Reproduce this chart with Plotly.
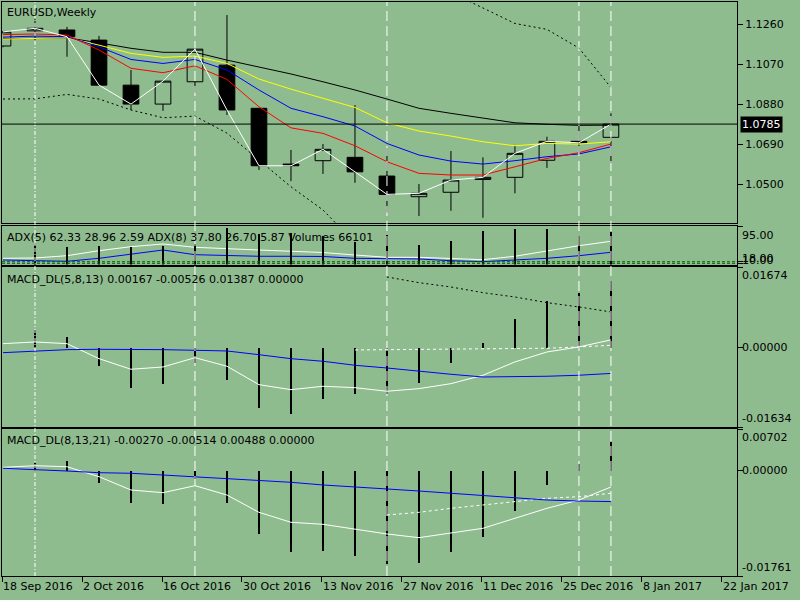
import plotly.graph_objects as go

BG = '#8FBC8F'
FONT = 'DejaVu Sans'

# ---- weekly EURUSD bars (index 0 = week of 11 Sep 2016) ----
opens = [1.1156, 1.1228, 1.1232, 1.1184, 1.0970, 1.0880, 1.0986, 1.1065, 1.0860, 1.0595,
         1.0611, 1.0627, 1.0538, 1.0440, 1.0461, 1.0522, 1.0532, 1.0613, 1.0703, 1.0722]
highs = [1.1225, 1.1284, 1.1247, 1.1204, 1.1042, 1.0989, 1.1146, 1.1303, 1.0860, 1.0662,
         1.0690, 1.0875, 1.0672, 1.0500, 1.0657, 1.0627, 1.0682, 1.0725, 1.0776, 1.0836]
lows = [1.1150, 1.1184, 1.1105, 1.0970, 1.0852, 1.0848, 1.0934, 1.0828, 1.0567, 1.0514,
        1.0548, 1.0506, 1.0364, 1.0348, 1.0373, 1.0340, 1.0456, 1.0577, 1.0652, 1.0599]
closes = [1.1223, 1.1240, 1.1200, 1.0970, 1.0880, 1.0989, 1.1141, 1.0852, 1.0587, 1.0587,
          1.0665, 1.0558, 1.0451, 1.0456, 1.0519, 1.0532, 1.0646, 1.0703, 1.0696, 1.0785]

ma_red = [1.1210, 1.1213, 1.1208, 1.1137, 1.1050, 1.1029, 1.1062, 1.0997, 1.0867, 1.0767,
          1.0741, 1.0682, 1.0606, 1.0551, 1.0543, 1.0543, 1.0582, 1.0622, 1.0649, 1.0690]
ma_blue = [1.1198, 1.1203, 1.1200, 1.1152, 1.1092, 1.1073, 1.1092, 1.1042, 1.0947, 1.0860,
           1.0820, 1.0776, 1.0693, 1.0638, 1.0609, 1.0595, 1.0611, 1.0630, 1.0643, 1.0677]
ma_yellow = [1.1189, 1.1192, 1.1195, 1.1160, 1.1121, 1.1102, 1.1108, 1.1073, 1.0999, 1.0951,
             1.0907, 1.0864, 1.0791, 1.0752, 1.0728, 1.0701, 1.0682, 1.0693, 1.0690, 1.0701]
ma_black = [1.1191, 1.1194, 1.1195, 1.1171, 1.1145, 1.1126, 1.1126, 1.1089, 1.1057, 1.1023,
            1.0986, 1.0947, 1.0904, 1.0860, 1.0836, 1.0812, 1.0791, 1.0784, 1.0779, 1.0780]
band_upper = [None] * 14 + [1.1410, 1.1336, 1.1263, 1.1235, 1.1146, 1.0959]
band_lower = [1.0904, 1.0905, 1.0926, 1.0904, 1.0852, 1.0815, 1.0823, 1.0742, 1.0614, 1.0487,
              1.0377, 1.0220] + [None] * 8
last_price = 1.0785

# ---- ADX / volumes panel ----
adx5 = [15.6, 16.4, 22.2, 34.8, 44.9, 51.7, 43.3, 39.1, 36.5, 33.3,
        30.2, 23.9, 18.1, 18.1, 15.6, 12.1, 20.7, 34.8, 47.4, 58.5]
adx8 = [11.3, 9.6, 8.1, 15.6, 26.5, 36.5, 24.7, 22.2, 20.7, 20.7,
        20.2, 15.6, 13.9, 13.9, 9.6, 7.1, 11.3, 15.6, 22.2, 30.7]
volumes = [None, 39700, 35600, 37600, 35000, 37600, 41100, 74900, 62600, 64100,
           58000, 45800, 59200, 39700, 47800, 68100, 72200, 72200, 58600, 66101]
adx_levels = [7, 3]

# ---- MACD_DL(5,8,13) ----
macd1_white = [0.00089, 0.00124, 0.00089, -0.00221, -0.00440, -0.00393, -0.00201, -0.00378, -0.00759, -0.00862,
               -0.00792, -0.00821, -0.00895, -0.00841, -0.00738, -0.00564, -0.00289, -0.00083, 0.00021, 0.00167]
macd1_blue = [-0.00097, -0.00068, -0.00035, -0.00027, -0.00027, -0.00035, -0.00048, -0.00062, -0.00139, -0.00221,
              -0.00275, -0.00358, -0.00414, -0.00482, -0.00544, -0.00600, -0.00600, -0.00585, -0.00564, -0.00526]
macd1_hist = [0, 0.00366, 0.00227, -0.00372, -0.00827, -0.00738, -0.00304, -0.00655, -0.01240, -0.01358,
              -0.01048, -0.00945, -0.00945, -0.00717, -0.00304, 0.00103, 0.00593, 0.00966, 0.01137, 0.01387]
macd1_upper = [None] * 12 + [0.01468, 0.01350, 0.01261, 0.01143, 0.01054, 0.00937, 0.00848, 0.00744]
macd1_trend = [None] * 11 + [-0.00041, -0.00035, -0.00027, -0.00027, -0.00021, -0.00014, -0.00006, 0.00021, 0.00056]
macd1_range = [-0.01634, 0.01674]

# ---- MACD_DL(8,13,21) ----
macd2_white = [0.00060, 0.00087, 0.00070, -0.00097, -0.00320, -0.00365, -0.00248, -0.00404, -0.00694, -0.00861,
               -0.00895, -0.00979, -0.01057, -0.01119, -0.01046, -0.00962, -0.00794, -0.00627, -0.00488, -0.00270]
macd2_blue = [0.00044, 0.00027, -0.00002, -0.00030, -0.00040, -0.00069, -0.00097, -0.00124, -0.00164, -0.00191,
              -0.00236, -0.00275, -0.00303, -0.00337, -0.00375, -0.00416, -0.00459, -0.00488, -0.00505, -0.00514]
macd2_hist = [0, 0.00137, 0.00166, -0.00198, -0.00533, -0.00555, -0.00136, -0.00533, -0.01062, -0.01354,
              -0.01342, -0.01421, -0.01565, -0.01548, -0.01354, -0.01102, -0.00667, -0.00236, 0.00111, 0.00488]
macd2_trend = [None] * 12 + [-0.00739, -0.00694, -0.00627, -0.00571, -0.00516, -0.00459, -0.00432, -0.00375]
macd2_range = [-0.01761, 0.00702]

# ---- time axis ----
date_pos = [-0.031, 2.469, 4.969, 7.469, 9.969, 12.469, 14.969, 17.469, 19.969, 22.469]
date_labels = ['18 Sep 2016', '2 Oct 2016', '16 Oct 2016', '30 Oct 2016', '13 Nov 2016',
               '27 Nov 2016', '11 Dec 2016', '25 Dec 2016', '8 Jan 2017', '22 Jan 2017']
dotted_sep = [1]
dashed_sep = [6, 12, 18, 19]
price_ticks = [1.0500, 1.0690, 1.0880, 1.1070, 1.1260]

bars = list(range(len(closes)))

fig = go.Figure()

fig.add_trace(go.Candlestick(
    x=bars, open=opens, high=highs, low=lows, close=closes,
    increasing=dict(line=dict(color='black', width=1), fillcolor=BG),
    decreasing=dict(line=dict(color='black', width=1), fillcolor='black'),
    xaxis='x', yaxis='y', showlegend=False))


def line(y, color, xa, ya, dash='solid'):
    fig.add_trace(go.Scatter(x=bars, y=y, mode='lines', xaxis=xa, yaxis=ya,
                             line=dict(color=color, width=1, dash=dash), showlegend=False))


line(band_upper, 'black', 'x', 'y', '2px,3px')
line(band_lower, 'black', 'x', 'y', '2px,3px')
line(ma_black, 'black', 'x', 'y')
line(ma_yellow, '#FFFF00', 'x', 'y')
line(ma_blue, '#0000FF', 'x', 'y')
line(ma_red, '#FF0000', 'x', 'y')
line(closes, 'white', 'x', 'y')

line(adx5, 'white', 'x2', 'y2')
line(adx8, '#0000FF', 'x2', 'y2')
fig.add_trace(go.Bar(x=bars, y=volumes, width=0.035, marker=dict(color='black', line_width=0),
                     xaxis='x2', yaxis='y3', showlegend=False))

fig.add_trace(go.Bar(x=bars, y=macd1_hist, width=0.035, marker=dict(color='black', line_width=0),
                     xaxis='x3', yaxis='y4', showlegend=False))
line(macd1_upper, 'black', 'x3', 'y4', '2px,3px')
line(macd1_trend, 'white', 'x3', 'y4', '3px,3px')
line(macd1_white, 'white', 'x3', 'y4')
line(macd1_blue, '#0000FF', 'x3', 'y4')

fig.add_trace(go.Bar(x=bars, y=macd2_hist, width=0.035, marker=dict(color='black', line_width=0),
                     xaxis='x4', yaxis='y5', showlegend=False))
line(macd2_trend, 'white', 'x4', 'y5', '3px,3px')
line(macd2_white, 'white', 'x4', 'y5')
line(macd2_blue, '#0000FF', 'x4', 'y5')

# panel layout (pixel rows -> paper fractions)
H0, H1 = 2, 576


def dom(top, bottom):
    return [(H1 - bottom) / (H1 - H0), (H1 - top) / (H1 - H0)]


xr = [-0.0315, 22.94]
frame = dict(showline=True, mirror=True, linecolor='black', linewidth=1, showgrid=False,
             zeroline=False, fixedrange=True)
xcommon = dict(frame, range=xr, showticklabels=False, ticks='')

fig.update_layout(
    width=800, height=600,
    margin=dict(l=2, r=63, t=2, b=24),
    paper_bgcolor=BG, plot_bgcolor=BG,
    font=dict(family=FONT, size=11, color='black'),
    bargap=0, barmode='overlay',
    xaxis=dict(xcommon, anchor='y', rangeslider=dict(visible=False)),
    xaxis2=dict(xcommon, anchor='y2', matches='x'),
    xaxis3=dict(xcommon, anchor='y4', matches='x'),
    xaxis4=dict(frame, range=xr, anchor='y5', matches='x', tickvals=date_pos, ticktext=date_labels,
                ticks='outside', ticklen=5, tickcolor='black', ticklabelposition='outside right',
                tickfont=dict(family=FONT, size=11)),
    yaxis=dict(frame, domain=dom(2, 223), range=[1.0315, 1.1365], side='right', anchor='x',
               tickvals=price_ticks, ticktext=['%.4f' % v for v in price_ticks],
               ticks='outside', ticklen=5, tickcolor='black'),
    yaxis2=dict(frame, domain=dom(226, 264.5), range=[0, 97], side='right', anchor='x2',
                tickvals=[95] + adx_levels, ticks='outside', ticklen=5, tickcolor='black',
                showticklabels=False),
    yaxis3=dict(range=[0, 78300], overlaying='y2', anchor='x2', visible=False, fixedrange=True),
    yaxis4=dict(frame, domain=dom(267, 427), range=macd1_range, side='right', anchor='x3',
                tickvals=[macd1_range[0], 0, macd1_range[1]], ticks='outside', ticklen=5,
                tickcolor='black', showticklabels=False),
    yaxis5=dict(frame, domain=dom(429, 576), range=macd2_range, side='right', anchor='x4',
                tickvals=[macd2_range[0], 0, macd2_range[1]], ticks='outside', ticklen=5,
                tickcolor='black', showticklabels=False),
)

shapes = []
for s in dotted_sep:
    shapes.append(dict(type='line', xref='x', yref='paper', x0=s, x1=s, y0=0, y1=1,
                       line=dict(color='white', width=1, dash='4px,2px,1px,2px')))
for s in dashed_sep:
    shapes.append(dict(type='line', xref='x', yref='paper', x0=s, x1=s, y0=0, y1=1,
                       line=dict(color='white', width=1, dash='10px,5px')))
shapes.append(dict(type='line', xref='x domain', yref='y', x0=0, x1=1, y0=last_price, y1=last_price,
                   line=dict(color='black', width=1)))
for lv in adx_levels:
    shapes.append(dict(type='line', xref='x2 domain', yref='y2', x0=0, x1=1, y0=lv, y1=lv,
                       line=dict(color='#006400', width=1, dash='3px,2px')))
fig.update_layout(shapes=shapes)

ann = []


def title(text, yref, yshift):
    ann.append(dict(text=text, xref='paper', x=0, xanchor='left', xshift=3, yref=yref, y=1,
                    yanchor='top', yshift=yshift, showarrow=False, font=dict(family=FONT, size=11)))


def rlabel(text, yref, y, anchor, color='black', **kw):
    ann.append(dict(text=text, xref='paper', x=1, xanchor='left', xshift=3, yref=yref, y=y,
                    yanchor=anchor, showarrow=False, font=dict(family=FONT, size=11, color=color), **kw))


title('EURUSD,Weekly', 'y domain', -2)
title('ADX(5) 62.33 28.96 2.59 ADX(8) 37.80 26.70 5.87 Volumes 66101', 'y2 domain', -3)
title('MACD_DL(5,8,13) 0.00167 -0.00526 0.01387 0.00000', 'y4 domain', -4)
title('MACD_DL(8,13,21) -0.00270 -0.00514 0.00488 0.00000', 'y5 domain', -3)

rlabel('%.4f' % last_price, 'y', last_price, 'middle', color='white', bgcolor='black', borderpad=1)
rlabel('95.00', 'y2', 95, 'top')
rlabel('10.00', 'y2', 3, 'bottom', yshift=-6)
rlabel('18.00', 'y2', 3, 'bottom', yshift=-4)
rlabel('%.5f' % macd1_range[1], 'y4', macd1_range[1], 'top')
rlabel('0.00000', 'y4', 0, 'middle')
rlabel('%.5f' % macd1_range[0], 'y4', macd1_range[0], 'bottom')
rlabel('%.5f' % macd2_range[1], 'y5', macd2_range[1], 'top')
rlabel('0.00000', 'y5', 0, 'middle')
rlabel('%.5f' % macd2_range[0], 'y5', macd2_range[0], 'bottom')
fig.update_layout(annotations=ann)

# the page body has a default 8px margin; drop it so the chart sits at the window corner
fig.write_html('out.html', config={'displayModeBar': False},
               post_script="document.body.style.margin='0';")
